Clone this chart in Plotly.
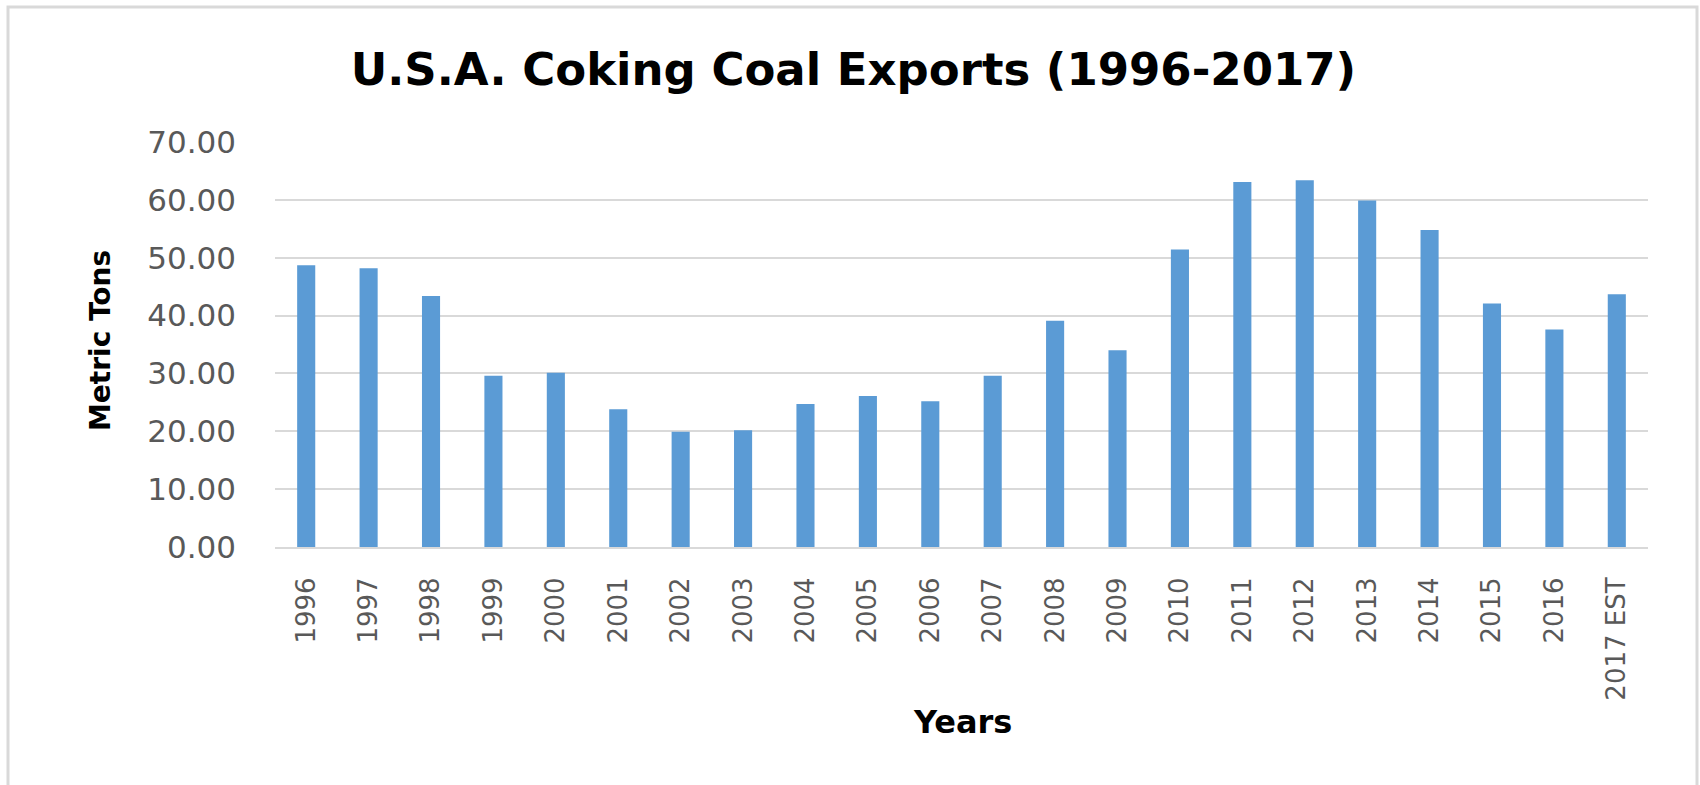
import plotly.graph_objects as go

# U.S.A. coking coal exports by year
years = ["1996", "1997", "1998", "1999", "2000", "2001", "2002", "2003", "2004",
         "2005", "2006", "2007", "2008", "2009", "2010", "2011", "2012", "2013",
         "2014", "2015", "2016", "2017 EST"]
exports = [48.7, 48.2, 43.4, 29.6, 30.1, 23.8, 19.9, 20.2, 24.7,
           26.1, 25.2, 29.6, 39.1, 34.0, 51.4, 63.1, 63.4, 59.9,
           54.8, 42.1, 37.6, 43.7]
y_ticks = [0, 10, 20, 30, 40, 50, 60, 70]

W, H = 1700, 785
L, R, T, B = 275, 1648, 142, 547   # plot area edges in pixels


def px_x(x):
    return (x - L) / (R - L)


def px_y(y):
    return (B - y) / (B - T)


fig = go.Figure(go.Bar(
    x=years,
    y=exports,
    marker=dict(color="#5b9bd5", line=dict(width=0)),
))

fig.update_layout(
    width=W,
    height=H,
    margin=dict(l=L, r=W - R, t=T, b=H - B, pad=0),
    paper_bgcolor="white",
    plot_bgcolor="white",
    bargap=0.71,
    showlegend=False,
    title=dict(
        text="<b>U.S.A. Coking Coal Exports (1996-2017)</b>",
        x=0.502, xref="container", xanchor="center",
        y=1 - 69 / H, yref="container", yanchor="middle",
        font=dict(family="DejaVu Sans", size=45, color="black"),
    ),
    font=dict(family="DejaVu Sans"),
)

fig.update_yaxes(
    range=[0, 70],
    tickvals=y_ticks,
    tickformat=".2f",
    showgrid=True,
    gridcolor="#d9d9d9",
    gridwidth=2,
    zeroline=False,
    showline=False,
    ticks="",
    ticklabelstandoff=38,
    tickfont=dict(family="DejaVu Sans", size=31, color="#595959"),
)

fig.update_xaxes(
    tickangle=-90,
    showgrid=False,
    showline=True,
    linecolor="#d9d9d9",
    linewidth=2,
    ticks="",
    ticklabelstandoff=18,
    tickfont=dict(family="DejaVu Sans", size=26, color="#595959"),
)

# axis titles
fig.add_annotation(
    text="<b>Metric Tons</b>", textangle=-90,
    x=px_x(100), y=px_y(341), xref="paper", yref="paper",
    xanchor="center", yanchor="middle", showarrow=False,
    font=dict(family="DejaVu Sans", size=28, color="black"),
)
fig.add_annotation(
    text="<b>Years</b>",
    x=px_x(962), y=px_y(722), xref="paper", yref="paper",
    xanchor="center", yanchor="middle", showarrow=False,
    font=dict(family="DejaVu Sans", size=32, color="black"),
)

# chart frame
fig.add_shape(
    type="rect", xref="paper", yref="paper",
    x0=px_x(8), x1=px_x(1697), y0=px_y(800), y1=px_y(7),
    line=dict(color="#d9d9d9", width=3), fillcolor="rgba(0,0,0,0)",
    layer="below",
)

fig.write_html("out.html")
